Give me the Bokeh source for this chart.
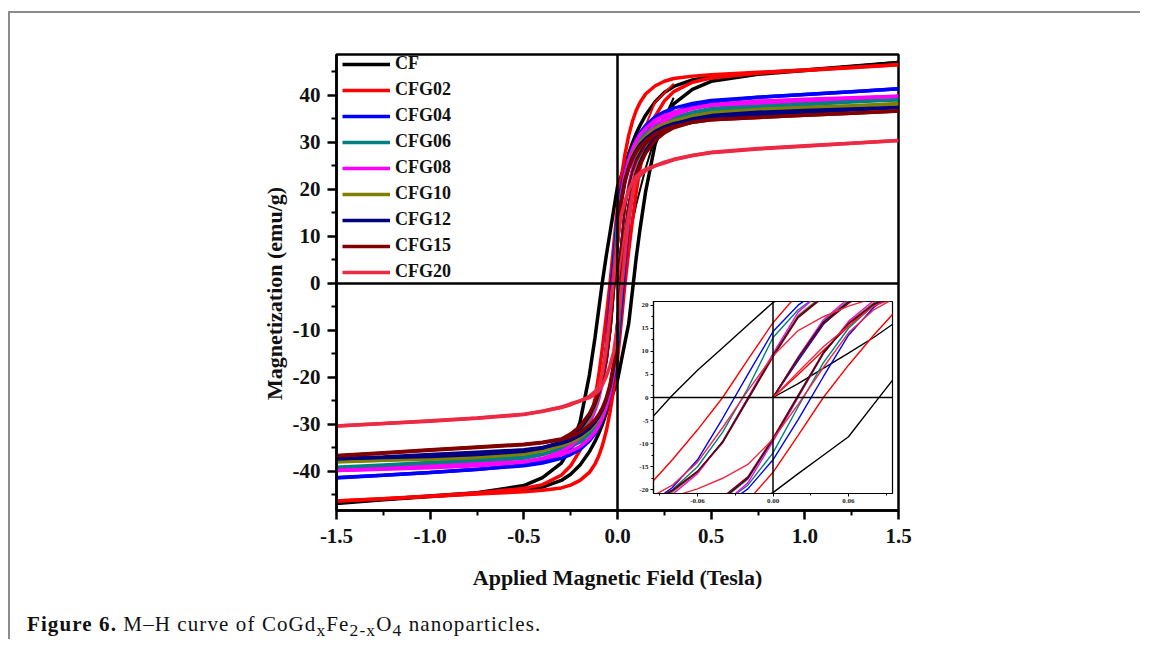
from bokeh.plotting import figure
from bokeh.models import (FixedTicker, NumeralTickFormatter, Span, Legend, LegendItem,
                          GridBox, Div, Range1d)
from bokeh.embed import file_html
from bokeh.resources import INLINE

# ---------------- data ----------------
SERIES = ["CF", "CFG02", "CFG04", "CFG06", "CFG08", "CFG10", "CFG12", "CFG15", "CFG20"]
COLORS = ["#000000", "#ff0000", "#0000ff", "#008080", "#ff00ff", "#808000", "#000080", "#800000", "#ec2a44"]

# field grid of the descending branch (+1.5 T -> -1.5 T)
H_DESC = [1.5, 1.25, 1.0, 0.75, 0.5, 0.4, 0.3, 0.25, 0.2, 0.15, 0.12, 0.1, 0.08, 0.06, 0.04, 0.02, 0.0,
          -0.02, -0.04, -0.06, -0.08, -0.1, -0.12, -0.15, -0.2, -0.25, -0.3, -0.4, -0.5, -0.75, -1.0, -1.25, -1.5]
# field grid of the ascending branch (-1.5 T -> +1.5 T)
H_ASC = [-1.5, -1.25, -1.0, -0.75, -0.5, -0.4, -0.3, -0.25, -0.2, -0.15, -0.12, -0.1, -0.08, -0.06, -0.04, -0.02, 0.0,
         0.02, 0.04, 0.06, 0.08, 0.1, 0.12, 0.15, 0.2, 0.25, 0.3, 0.4, 0.5, 0.75, 1.0, 1.25, 1.5]
# field grid of the initial magnetisation curves
H_VIRGIN = [0.0, 0.02, 0.04, 0.06, 0.08, 0.1, 0.15, 0.2, 0.3]

CF_DESC = [47.0, 46.2, 45.4, 44.8, 44.0, 43.3, 41.9, 40.6, 38.6, 35.8, 33.6, 31.9, 29.9, 27.6, 25.2, 22.9, 20.6,
           15.7, 10.8, 5.9, 0.5, -5.5, -11.5, -19.5, -29.5, -35.0, -38.2, -41.3, -43.0, -44.5, -45.2, -45.9, -46.6]
CF_ASC = [-46.8, -46.0, -45.3, -44.7, -44.0, -43.3, -41.9, -40.6, -38.6, -35.8, -33.6, -31.9, -29.9, -27.6, -25.2, -22.9, -20.6,
          -16.5, -12.5, -8.5, -1.5, 5.5, 11.5, 19.5, 29.5, 35.0, 38.2, 41.3, 43.0, 44.5, 45.3, 46.1, 47.0]
CF_VIRGIN = [0.0, 3.0, 6.3, 9.6, 13.0, 16.8, 24.5, 31.0, 39.5]

CFG02_DESC = [46.5, 46.0, 45.4, 44.9, 44.4, 44.1, 43.6, 43.0, 42.0, 40.3, 38.5, 36.8, 34.5, 31.5, 27.5, 22.5, 16.2,
              8.2, 0.0, -7.0, -13.5, -19.5, -24.5, -30.0, -35.5, -38.8, -40.8, -42.8, -43.6, -44.6, -45.2, -45.8, -46.3]
CFG02_ASC = [-46.3, -45.8, -45.3, -44.8, -44.3, -44.0, -43.5, -42.9, -41.9, -40.2, -38.4, -36.7, -34.4, -31.4, -27.4, -22.4, -16.2,
             -8.2, 0.0, 7.0, 13.5, 19.5, 24.5, 30.0, 35.5, 38.8, 40.8, 42.8, 43.7, 44.7, 45.3, 45.9, 46.5]
CFG02_VIRGIN = [0.0, 5.0, 10.2, 15.4, 20.5, 25.5, 33.5, 38.5, 42.5]

CFG04_DESC = [41.4, 40.8, 40.2, 39.6, 38.9, 38.3, 37.3, 36.5, 35.4, 33.6, 32.0, 30.6, 28.8, 26.5, 23.8, 20.0, 14.3,
              5.0, -4.5, -13.5, -19.5, -23.5, -26.5, -29.8, -33.0, -35.0, -36.3, -37.8, -38.6, -39.6, -40.2, -40.8, -41.3]
CFG04_ASC = [-41.4, -40.8, -40.2, -39.5, -38.8, -38.2, -37.2, -36.4, -35.3, -33.5, -31.9, -30.5, -28.7, -26.4, -23.7, -19.8, -13.5,
             -4.8, 4.5, 13.5, 19.5, 23.5, 26.5, 29.8, 33.0, 35.0, 36.3, 37.8, 38.6, 39.6, 40.2, 40.8, 41.4]
CFG04_VIRGIN = [0.0, 8.0, 15.8, 20.8, 24.8, 27.8, 32.0, 34.6, 36.8]

CFG06_DESC = [39.1, 38.6, 38.0, 37.5, 36.9, 36.3, 35.4, 34.7, 33.7, 32.0, 30.6, 29.4, 27.8, 25.7, 23.0, 19.0, 13.0,
              2.0, -7.5, -15.0, -20.0, -23.5, -26.2, -29.0, -32.0, -33.8, -35.0, -36.4, -37.2, -38.0, -38.5, -38.9, -39.2]
CFG06_ASC = [-39.1, -38.6, -38.1, -37.5, -36.9, -36.3, -35.4, -34.7, -33.7, -32.0, -30.6, -29.4, -27.8, -25.7, -23.0, -19.0, -12.0,
             -2.0, 7.5, 15.0, 20.0, 23.5, 26.2, 29.0, 32.0, 33.8, 35.0, 36.4, 37.2, 38.0, 38.5, 38.9, 39.1]
CFG06_VIRGIN = [0.0, 8.5, 16.5, 21.0, 24.5, 27.2, 31.0, 33.3, 35.2]

CFG08_DESC = [39.8, 39.4, 38.9, 38.4, 37.9, 37.3, 36.4, 35.7, 34.7, 33.0, 31.6, 30.3, 28.6, 26.3, 23.2, 18.5, 9.5,
              0.0, -9.5, -16.5, -21.0, -24.5, -27.0, -29.8, -32.8, -34.6, -35.8, -37.2, -38.0, -38.8, -39.2, -39.5, -39.8]
CFG08_ASC = [-39.8, -39.4, -38.9, -38.4, -37.9, -37.3, -36.4, -35.7, -34.7, -33.0, -31.6, -30.3, -28.6, -26.3, -23.2, -18.5, -9.5,
             0.0, 9.5, 16.5, 21.0, 24.5, 27.0, 29.8, 32.8, 34.6, 35.8, 37.2, 38.0, 38.8, 39.2, 39.5, 39.8]
CFG08_VIRGIN = [0.0, 8.8, 16.8, 21.5, 25.0, 27.6, 31.5, 34.0, 36.0]

CFG10_DESC = [38.2, 37.7, 37.2, 36.7, 36.1, 35.5, 34.6, 33.9, 32.9, 31.3, 30.0, 28.8, 27.2, 25.0, 22.2, 17.8, 9.2,
              -0.2, -9.5, -16.2, -20.5, -23.8, -26.2, -28.8, -31.6, -33.2, -34.3, -35.6, -36.3, -37.0, -37.4, -37.6, -37.8]
CFG10_ASC = [-38.0, -37.6, -37.1, -36.6, -36.0, -35.4, -34.5, -33.8, -32.8, -31.2, -29.9, -28.7, -27.1, -24.9, -22.1, -17.7, -9.1,
             0.2, 9.5, 16.2, 20.5, 23.8, 26.2, 28.8, 31.6, 33.2, 34.3, 35.6, 36.3, 37.0, 37.4, 37.8, 38.2]
CFG10_VIRGIN = [0.0, 8.7, 16.5, 21.0, 24.3, 26.8, 30.5, 32.6, 34.4]

CFG12_DESC = [37.4, 36.9, 36.4, 35.9, 35.4, 34.9, 34.0, 33.3, 32.3, 30.8, 29.5, 28.3, 26.8, 24.7, 21.9, 17.5, 9.0,
              -0.3, -9.6, -16.0, -20.2, -23.3, -25.6, -28.2, -31.0, -32.6, -33.7, -35.0, -35.7, -36.4, -36.8, -37.0, -37.3]
CFG12_ASC = [-37.3, -36.9, -36.4, -35.9, -35.4, -34.9, -34.0, -33.3, -32.3, -30.8, -29.5, -28.3, -26.8, -24.7, -21.9, -17.5, -9.0,
             0.3, 9.6, 16.0, 20.2, 23.3, 25.6, 28.2, 31.0, 32.6, 33.7, 35.0, 35.7, 36.4, 36.8, 37.1, 37.4]
CFG12_VIRGIN = [0.0, 8.6, 16.3, 20.7, 24.0, 26.4, 30.0, 32.0, 33.8]

CFG15_DESC = [36.7, 36.2, 35.8, 35.3, 34.8, 34.3, 33.4, 32.7, 31.8, 30.3, 29.1, 28.0, 26.5, 24.5, 21.7, 17.3, 8.8,
              -0.5, -9.8, -16.0, -20.0, -23.0, -25.2, -27.7, -30.4, -32.0, -33.1, -33.8, -34.2, -34.8, -35.4, -36.0, -36.6]
CFG15_ASC = [-36.7, -36.1, -35.5, -34.9, -34.3, -33.9, -33.2, -32.6, -31.7, -30.2, -29.0, -27.9, -26.4, -24.4, -21.6, -17.2, -8.8,
             0.5, 9.8, 16.0, 20.0, 23.0, 25.2, 27.7, 30.4, 32.0, 33.1, 34.3, 34.8, 35.3, 35.8, 36.2, 36.7]
CFG15_VIRGIN = [0.0, 8.5, 16.0, 20.4, 23.7, 26.0, 29.5, 31.5, 33.2]

CFG20_DESC = [30.4, 29.8, 29.2, 28.6, 27.8, 27.2, 26.4, 25.8, 25.0, 24.3, 23.5, 22.8, 21.5, 19.8, 17.5, 14.5, 9.0,
              1.5, -6.5, -14.0, -19.0, -22.0, -23.0, -24.0, -25.0, -25.6, -26.3, -27.2, -27.9, -28.7, -29.3, -29.8, -30.3]
CFG20_ASC = [-30.3, -29.8, -29.2, -28.6, -27.8, -27.2, -26.4, -25.8, -25.0, -24.3, -23.5, -22.8, -21.5, -19.8, -17.5, -14.5, -9.0,
             -1.5, 6.5, 14.0, 19.0, 22.0, 23.0, 24.0, 25.0, 25.6, 26.3, 27.2, 27.9, 28.7, 29.3, 29.8, 30.4]
CFG20_VIRGIN = [0.0, 5.5, 11.0, 15.5, 19.8, 21.9, 24.0, 25.0, 26.4]

DESC = [CF_DESC, CFG02_DESC, CFG04_DESC, CFG06_DESC, CFG08_DESC, CFG10_DESC, CFG12_DESC, CFG15_DESC, CFG20_DESC]
ASC = [CF_ASC, CFG02_ASC, CFG04_ASC, CFG06_ASC, CFG08_ASC, CFG10_ASC, CFG12_ASC, CFG15_ASC, CFG20_ASC]
VIRGIN = [CF_VIRGIN, CFG02_VIRGIN, CFG04_VIRGIN, CFG06_VIRGIN, CFG08_VIRGIN, CFG10_VIRGIN, CFG12_VIRGIN,
          CFG15_VIRGIN, CFG20_VIRGIN]

X_TICKS = [-1.5, -1.0, -0.5, 0.0, 0.5, 1.0, 1.5]
X_MINOR = [-1.25, -0.75, -0.25, 0.25, 0.75, 1.25]
Y_TICKS = [-40, -30, -20, -10, 0, 10, 20, 30, 40]
Y_MINOR = [-45, -35, -25, -15, -5, 5, 15, 25, 35, 45]
INSET_X_TICKS = [-0.06, 0.0, 0.06]
INSET_X_MINOR = [-0.09, -0.03, 0.03, 0.09]
INSET_Y_TICKS = [-20, -15, -10, -5, 0, 5, 10, 15, 20]
INSET_Y_MINOR = [-17.5, -12.5, -7.5, -2.5, 2.5, 7.5, 12.5, 17.5]

SERIF = "Liberation Serif"

# ---------------- main plot ----------------
p = figure(width=1130, height=590, x_range=Range1d(-1.5, 1.5), y_range=Range1d(-48.3, 48.7),
           output_backend="svg", toolbar_location=None,
           min_border_left=326, min_border_right=242, min_border_top=41, min_border_bottom=93)
p.xgrid.visible = False
p.ygrid.visible = False
p.outline_line_color = "black"
p.outline_line_width = 2.5
p.outline_line_alpha = 1.0
p.background_fill_color = "white"
p.border_fill_color = "white"

for ax in (p.xaxis[0], p.yaxis[0]):
    ax.axis_line_width = 2.5
    ax.axis_line_color = "black"
    ax.major_tick_line_width = 2.5
    ax.minor_tick_line_width = 2
    ax.major_tick_in = 0
    ax.minor_tick_in = 0
    ax.major_tick_out = 9
    ax.minor_tick_out = 5
    ax.major_label_text_font = SERIF
    ax.major_label_text_font_style = "bold"
    ax.major_label_text_font_size = "21px"
    ax.major_label_text_color = "#111111"
    ax.axis_label_text_font = SERIF
    ax.axis_label_text_font_style = "bold"
    ax.axis_label_text_font_size = "22px"
    ax.axis_label_text_color = "#111111"

p.xaxis.ticker = FixedTicker(ticks=X_TICKS, minor_ticks=X_MINOR)
p.xaxis.formatter = NumeralTickFormatter(format="0.0")
p.yaxis.ticker = FixedTicker(ticks=Y_TICKS, minor_ticks=Y_MINOR)
p.yaxis.formatter = NumeralTickFormatter(format="0")
p.xaxis.axis_label = "Applied Magnetic Field (Tesla)"
# trailing no-break spaces move the rotated title slightly down, as in the original
p.yaxis.axis_label = "Magnetization (emu/g)" + "\u00a0" * 4
p.xaxis.major_label_standoff = 9
p.yaxis.major_label_standoff = 7
p.xaxis.axis_label_standoff = 19
p.yaxis.axis_label_standoff = 3

p.add_layout(Span(location=0, dimension="height", line_color="black", line_width=2.5))
p.add_layout(Span(location=0, dimension="width", line_color="black", line_width=2.5))

items = []
for name, col, d, a, v in zip(SERIES, COLORS, DESC, ASC, VIRGIN):
    r = p.line(H_DESC, d, line_color=col, line_width=3.5)
    p.line(H_ASC, a, line_color=col, line_width=3.5)
    p.line(H_VIRGIN, v, line_color=col, line_width=2)
    items.append(LegendItem(label=name, renderers=[r]))

legend = Legend(items=items, location=(6, 228), margin=0, padding=0, spacing=5,
                glyph_width=48, glyph_height=18, label_height=18, label_standoff=5,
                label_text_font=SERIF, label_text_font_style="bold", label_text_font_size="18px",
                label_text_color="#111111", background_fill_alpha=0, border_line_alpha=0)
p.add_layout(legend, "center")

# ---------------- inset (separate root, placed over the main plot) ----------------
ins = figure(width=262, height=211, x_range=Range1d(-0.095, 0.095), y_range=Range1d(-20.8, 20.8),
             output_backend="svg", toolbar_location=None,
             min_border_left=20, min_border_right=3, min_border_top=3, min_border_bottom=16,
             styles={"position": "absolute", "left": "633px", "top": "298px", "z-index": "10"})
ins.xgrid.visible = False
ins.ygrid.visible = False
ins.outline_line_color = "black"
ins.outline_line_width = 1.2
ins.outline_line_alpha = 1.0
ins.background_fill_color = "white"
ins.border_fill_color = None
for ax in (ins.xaxis[0], ins.yaxis[0]):
    ax.axis_line_width = 1.2
    ax.major_tick_in = 0
    ax.minor_tick_in = 0
    ax.major_tick_out = 3
    ax.minor_tick_out = 2
    ax.major_label_standoff = 2
    ax.major_label_text_font = SERIF
    ax.major_label_text_font_style = "bold"
    ax.major_label_text_font_size = "7px"
    ax.major_label_text_color = "#222222"
ins.xaxis.ticker = FixedTicker(ticks=INSET_X_TICKS, minor_ticks=INSET_X_MINOR)
ins.xaxis.formatter = NumeralTickFormatter(format="0.00")
ins.yaxis.ticker = FixedTicker(ticks=INSET_Y_TICKS, minor_ticks=INSET_Y_MINOR)
ins.yaxis.formatter = NumeralTickFormatter(format="0")
ins.add_layout(Span(location=0, dimension="height", line_color="black", line_width=1.5))
ins.add_layout(Span(location=0, dimension="width", line_color="black", line_width=1.5))
for col, d, a, v in zip(COLORS, DESC, ASC, VIRGIN):
    ins.line(H_DESC, d, line_color=col, line_width=1.4)
    ins.line(H_ASC, a, line_color=col, line_width=1.4)
    ins.line(H_VIRGIN, v, line_color=col, line_width=1.4)

# ---------------- caption ----------------
cap = Div(text='<span style="font-weight:bold">Figure 6.</span> M–H curve of CoGd<sub>x</sub>Fe<sub>2-x</sub>O<sub>4</sub> nanoparticles.',
          width=900, height=30, margin=(6, 0, 0, 17),
          styles={"font-family": "'Liberation Serif', serif", "font-size": "21px", "color": "#111111",
                  "letter-spacing": "1.1px"})

grid = GridBox(children=[(p, 0, 0), (cap, 1, 0)],
               styles={"border-top": "2px solid #8c8c8c", "border-left": "2px solid #8c8c8c",
                       "margin-top": "11px", "margin-left": "8px"})

open("out.html", "w").write(file_html([grid, ins], INLINE))
